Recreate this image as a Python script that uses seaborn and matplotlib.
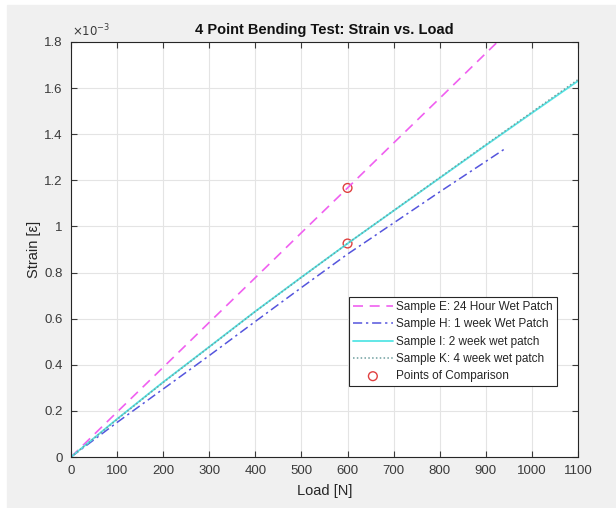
import numpy as np
import pandas as pd
import seaborn as sns
import matplotlib.pyplot as plt
from matplotlib.patches import Rectangle

# strain values are read in units of 1e-3
load_e = [0, 100, 200, 300, 400, 500, 600, 700, 800, 900, 950]
strain_e = [0, 0.195, 0.389, 0.584, 0.778, 0.973, 1.167, 1.362, 1.556, 1.751, 1.848]

load_h = [0, 100, 200, 300, 400, 500, 600, 700, 800, 900, 940]
strain_h = [0, 0.150, 0.295, 0.440, 0.588, 0.735, 0.880, 1.015, 1.150, 1.282, 1.335]

load_i = [0, 100, 200, 300, 400, 500, 600, 700, 800, 900, 1000, 1100]
strain_i = [0, 0.165, 0.325, 0.478, 0.632, 0.780, 0.926, 1.068, 1.210, 1.352, 1.492, 1.631]

load_k = [0, 100, 200, 300, 400, 500, 600, 700, 800, 900, 1000, 1100]
strain_k = [0, 0.163, 0.323, 0.477, 0.631, 0.779, 0.926, 1.069, 1.212, 1.355, 1.496, 1.637]

cmp_load = [600, 600]
cmp_strain = [1.167, 0.926]

labels = ["Sample E: 24 Hour Wet Patch", "Sample H: 1 week Wet Patch",
          "Sample I: 2 week wet patch", "Sample K: 4 week wet patch",
          "Points of Comparison"]

sns.set_style("ticks")
plt.rcParams['font.family'] = ['Liberation Sans', 'DejaVu Sans']

fig = plt.figure(figsize=(6.16, 5.08), dpi=100)
fig.patch.set_facecolor('white')
fig.add_artist(Rectangle((7/616, 0), 1, 503/508, transform=fig.transFigure,
                         color='#f0f0f0', zorder=-1))
ax = fig.add_axes([71/616, 51/508, 507/616, 415/508])
ax.set_facecolor('white')

sns.lineplot(x=load_e, y=strain_e, ax=ax, color='#f060f0', lw=1.2,
             linestyle=(0, (6, 4)), label=labels[0])
sns.lineplot(x=load_h, y=strain_h, ax=ax, color='#5555dd', lw=1.1,
             linestyle=(0, (6, 2.5, 1.5, 2.5)), label=labels[1])
sns.lineplot(x=load_i, y=strain_i, ax=ax, color='#55e5e5', lw=1.3,
             linestyle='-', label=labels[2])
sns.lineplot(x=load_k, y=strain_k, ax=ax, color='#6f9f9f', lw=1.1,
             linestyle=(0, (1, 1.5)), label=labels[3])
sns.scatterplot(x=cmp_load, y=cmp_strain, ax=ax, marker='o', s=40,
                facecolors='none', edgecolors='#e04040', linewidth=1.0,
                label=labels[4])

ax.set_xlim(0, 1100)
ax.set_ylim(0, 1.8)
ax.set_xticks(np.arange(0, 1101, 100))
ax.set_yticks(np.arange(0, 1.81, 0.2))
ax.set_yticklabels([f"{v:g}" for v in np.arange(0, 1.81, 0.2).round(1)])
ax.grid(True, color='#e4e4e4', lw=0.8)
ax.tick_params(direction='in', top=True, right=True, length=4,
               labelsize=9.5, colors='#3a3a3a', pad=6)
for s in ax.spines.values():
    s.set_color('#262626')
    s.set_linewidth(0.8)
    s.set_visible(True)

ax.text(0.002, 1.006, r"$\times10^{-3}$", transform=ax.transAxes, fontsize=8.5,
        color='#3a3a3a', ha='left', va='bottom')
ax.set_title("4 Point Bending Test: Strain vs. Load", fontsize=10.5,
             fontweight='bold', color='#111111', pad=6)
ax.set_xlabel("Load [N]", fontsize=10.5, color='#262626', labelpad=5)
ax.set_ylabel("Strain [ε]", fontsize=10.5, color='#262626', labelpad=2)

leg = ax.legend(loc='upper left', bbox_to_anchor=(0.536, 0.40), fontsize=8.5,
                handlelength=3.4, labelspacing=0.45, borderpad=0.35,
                handletextpad=0.3, frameon=True, fancybox=False,
                edgecolor='#262626', framealpha=1)
leg.get_frame().set_linewidth(0.8)

fig.savefig("out.png", dpi=100, facecolor=fig.get_facecolor())
